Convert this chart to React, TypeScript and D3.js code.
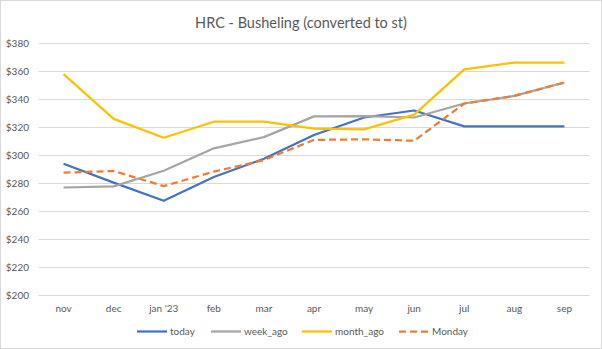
import React from "react";
import * as d3 from "d3";

const categories = ["nov", "dec", "jan '23", "feb", "mar", "apr", "may", "jun", "jul", "aug", "sep"];
const today = [294, 280.5, 267.5, 284.5, 297.5, 314.5, 327, 332, 320.7, 320.7, 320.7];
const weekAgo = [277, 277.8, 289, 305, 313, 327.8, 328, 327, 337, 342.4, 352];
const monthAgo = [358, 326, 312.5, 324, 324, 319, 318.5, 329, 361.4, 366.2, 366.2];
const monday = [287.6, 288.8, 278, 288.3, 296.6, 311, 311.4, 310.4, 337, 342.4, 352];
const yTicks = [200, 220, 240, 260, 280, 300, 320, 340, 360, 380];

const seriesList = [
  { name: "today", values: today, color: "#4472C4", dash: "" },
  { name: "week_ago", values: weekAgo, color: "#A5A5A5", dash: "" },
  { name: "month_ago", values: monthAgo, color: "#FFC000", dash: "" },
  { name: "Monday", values: monday, color: "#ED7D31", dash: "7,4" },
];

const W = 602;
const H = 349;
const FONT = "Lato, 'Open Sans', sans-serif";

export default function App() {
  const x = d3.scaleBand<string>().domain(categories).range([38.5, 589.5]);
  const y = d3.scaleLinear().domain([200, 380]).range([295.3, 43.3]);
  const line = d3
    .line<number>()
    .x((_, i) => (x(categories[i]) as number) + x.bandwidth() / 2)
    .y((d) => y(d));

  const legendX = [137, 211, 302, 399];
  return (
    <svg
      width={W}
      height={H}
      style={{ position: "fixed", left: 0, top: 0, background: "#fff" }}
      fontFamily={FONT}
    >
      <rect x={0.5} y={0.5} width={W - 1} height={H - 1} fill="#fff" stroke="#D9D9D9" />
      <text x={301} y={28} textAnchor="middle" fontSize={14.5} fill="#595959">
        HRC - Busheling (converted to st)
      </text>
      {yTicks.map((t) => (
        <g key={t}>
          <line x1={38.5} x2={589.5} y1={Math.round(y(t)) + 0.5} y2={Math.round(y(t)) + 0.5} stroke="#D9D9D9" />
          <text x={29} y={y(t) + 3.5} textAnchor="end" fontSize={10} fill="#595959">
            {"$" + t}
          </text>
        </g>
      ))}
      {categories.map((c) => (
        <text key={c} x={(x(c) as number) + x.bandwidth() / 2} y={312} textAnchor="middle" fontSize={10} fill="#595959">
          {c}
        </text>
      ))}
      {seriesList.map((s) => (
        <path
          key={s.name}
          d={line(s.values) || ""}
          fill="none"
          stroke={s.color}
          strokeWidth={2.25}
          strokeDasharray={s.dash}
          strokeLinejoin="round"
        />
      ))}
      {seriesList.map((s, i) => (
        <g key={s.name}>
          <line x1={legendX[i]} x2={legendX[i] + 30} y1={331.5} y2={331.5} stroke={s.color} strokeWidth={2.25} strokeDasharray={s.dash} />
          <text x={legendX[i] + 33} y={335} fontSize={10} fill="#595959">
            {s.name}
          </text>
        </g>
      ))}
    </svg>
  );
}
